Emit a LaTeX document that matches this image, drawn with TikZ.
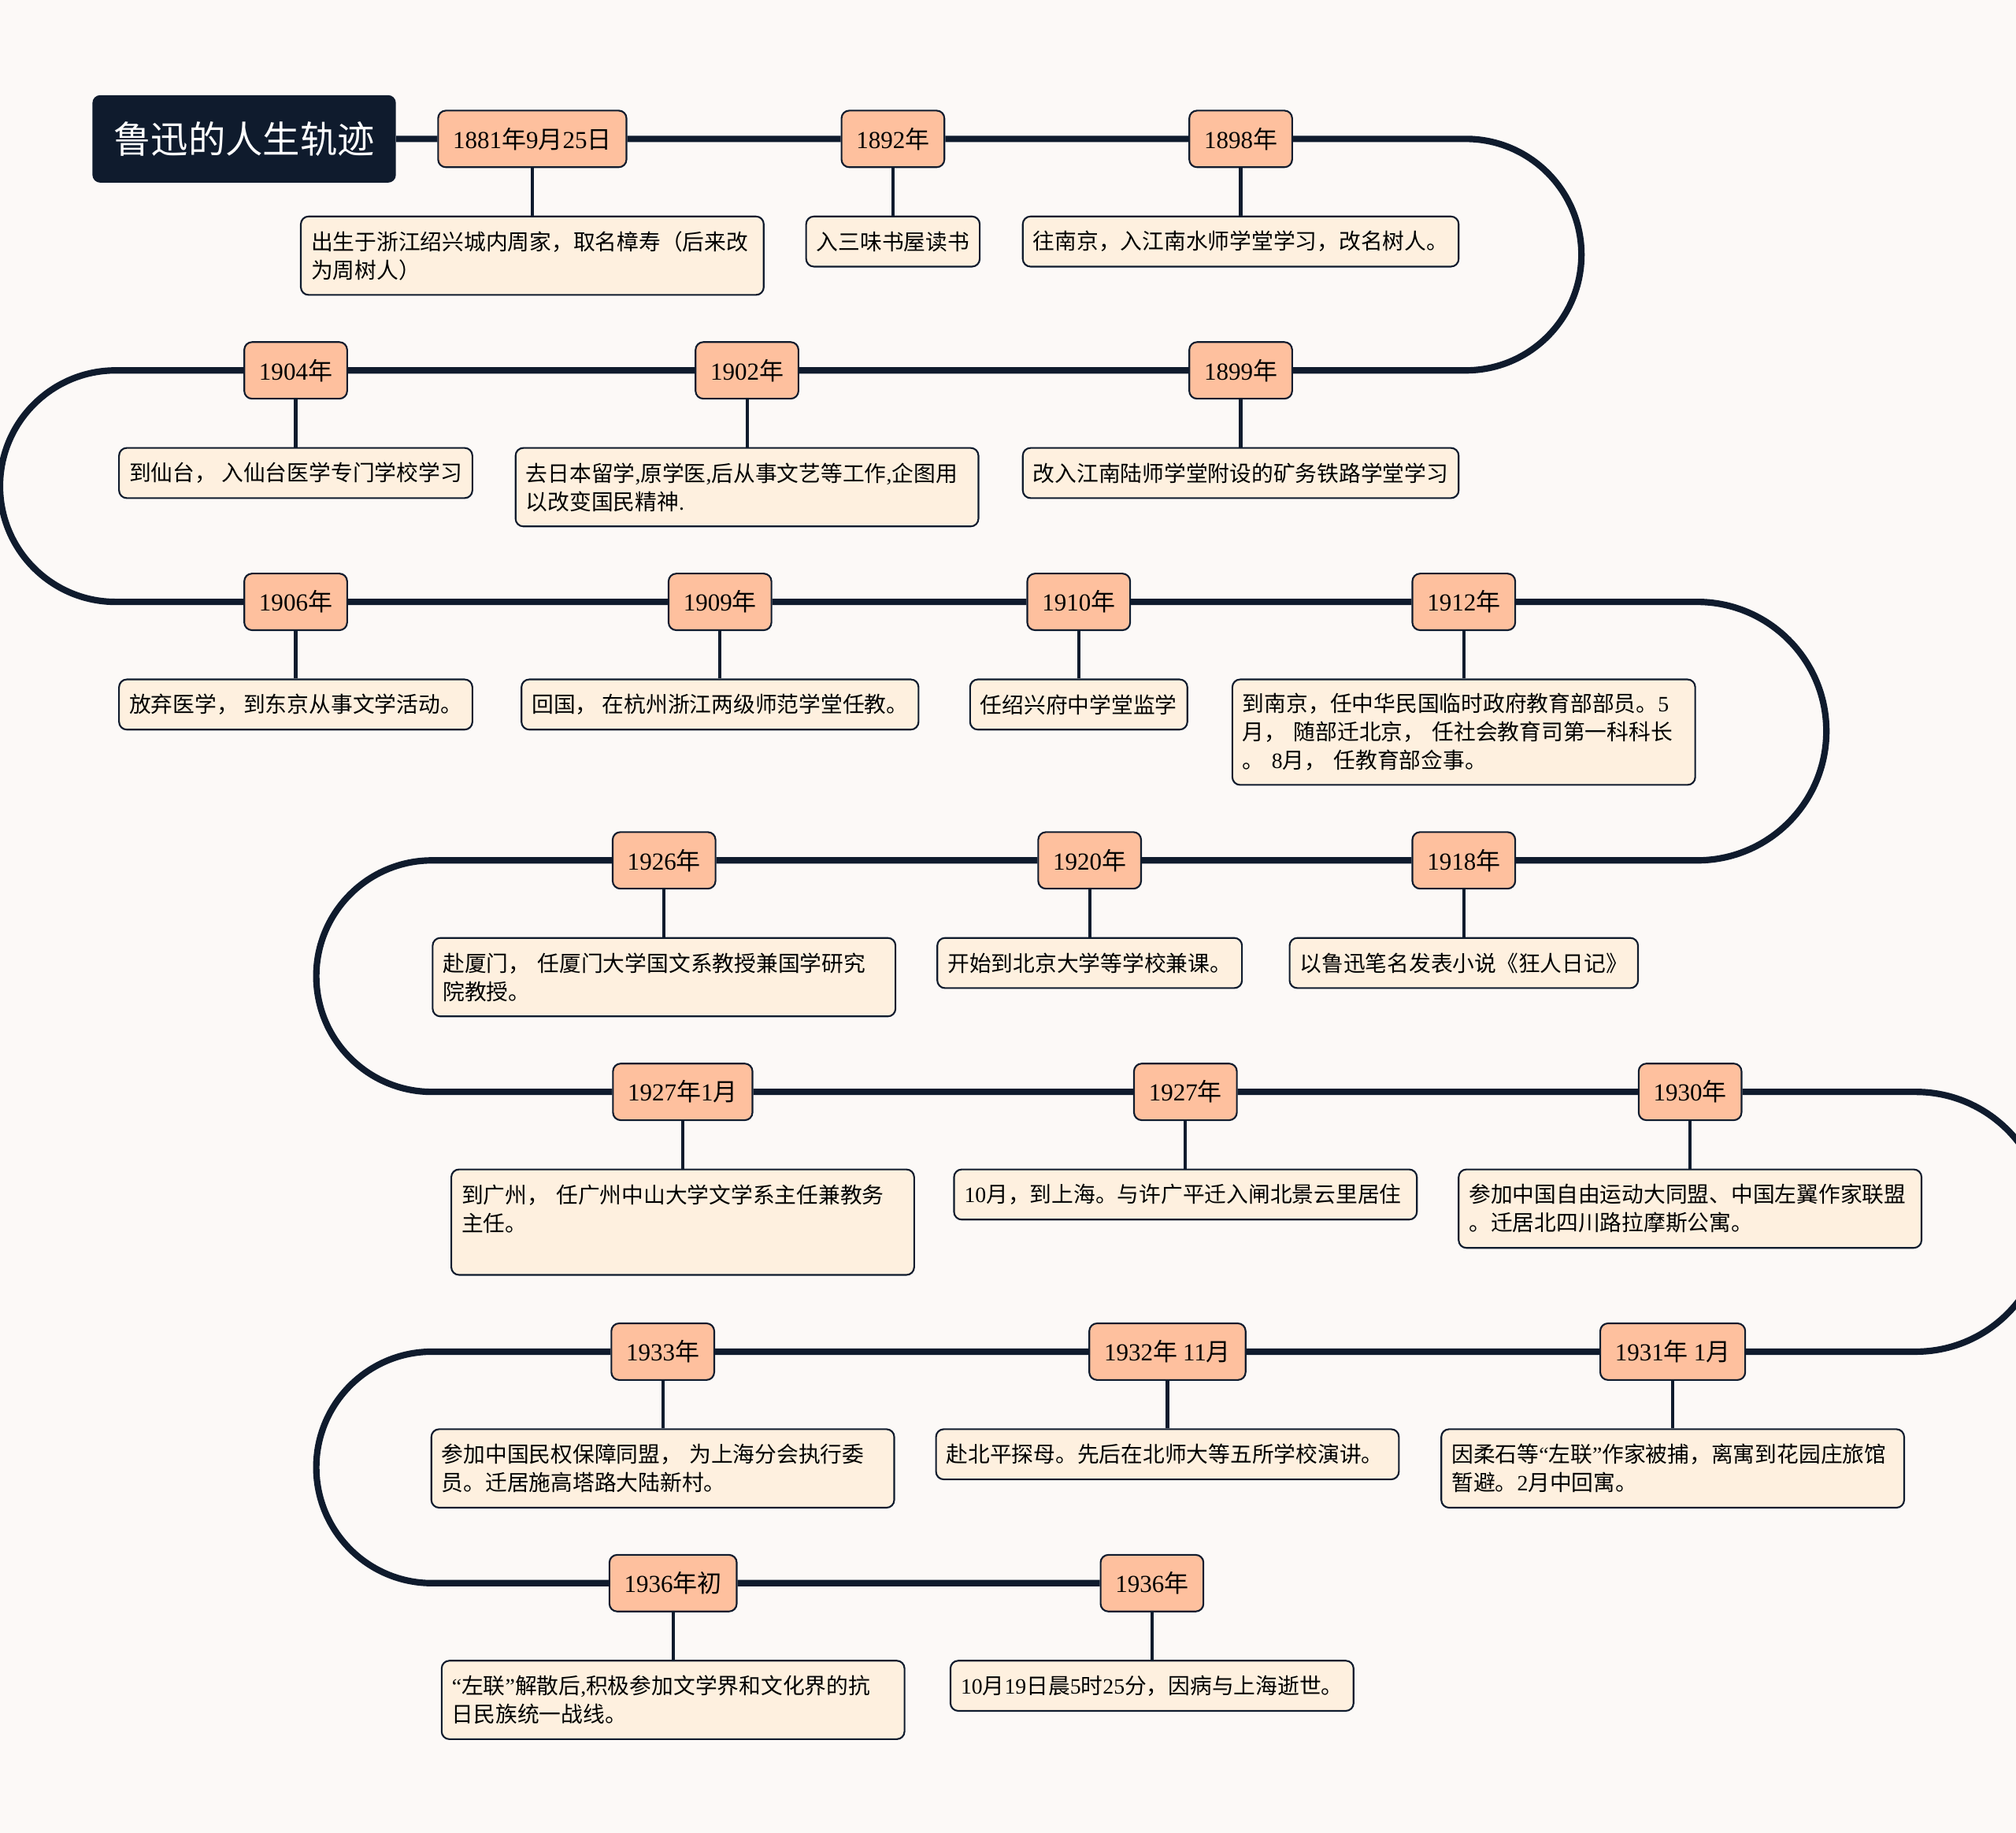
\documentclass[tikz,border=0pt]{standalone}
\usepackage{fontspec}
\setmainfont{Liberation Serif}
\newfontfamily\cjk{Noto Sans CJK SC}
\XeTeXinterchartokenstate=1
\chardef\hanclass=7
\newcommand\hanrange[2]{%
  \count255=#1
  \loop\XeTeXcharclass\count255=\hanclass
    \advance\count255 by 1
  \ifnum\count255<#2 \repeat}
\hanrange{"3000}{"3040}
\hanrange{"4E00}{"A000}
\hanrange{"FF00}{"FFF0}
\XeTeXinterchartoks 0 \hanclass = {\cjk}
\XeTeXinterchartoks 4095 \hanclass = {\cjk}
\XeTeXinterchartoks \hanclass 0 = {\rmfamily}
\XeTeXinterchartoks 4095 0 = {\rmfamily}
\usepackage{tikz}
\usetikzlibrary{positioning}
\definecolor{ink}{HTML}{0F1B2D}
\definecolor{peach}{HTML}{FEC09E}
\definecolor{cream}{HTML}{FEF0DF}
\definecolor{paper}{HTML}{FCF9F7}
\tikzset{
  titlebox/.style={rounded corners=6pt,fill=ink,text=white,minimum width=236pt,
                   minimum height=68pt,font=\fontsize{29}{32}\selectfont},
  datebox/.style={rounded corners=6pt,draw=ink,fill=peach,line width=1.3pt,
                  minimum height=44pt,inner xsep=11.5pt,font=\fontsize{19}{24}\selectfont},
  notebox/.style={rounded corners=6pt,draw=ink,fill=cream,line width=1.3pt,align=left,
                  minimum height=39pt,inner xsep=8pt,font=\fontsize{17}{22}\selectfont},
  widenote/.style={notebox,text width=344pt},
  trunk/.style={draw=ink,line width=5pt},
  stub/.style={draw=ink,line width=2.5pt}
}

\begin{document}
\begin{tikzpicture}[x=1pt,y=1pt,node distance=37pt]
    \useasboundingbox (0,0) rectangle (1568,-1425);
    \fill[paper] (0,0) rectangle (1568,-1425);

    \node[datebox] (d1881) at (414,-108) {1881年9月25日};
    \node[datebox] (d1892) at (694.5,-108) {1892年};
    \node[datebox] (d1898) at (965,-108) {1898年};
    \node[titlebox,left=32pt of d1881] (title) {鲁迅的人生轨迹};

    \node[datebox] (d1904) at (230,-288) {1904年};
    \node[datebox] (d1902) at (581,-288) {1902年};
    \node[datebox] (d1899) at (965,-288) {1899年};

    \node[datebox] (d1906) at (230,-468) {1906年};
    \node[datebox] (d1909) at (560,-468) {1909年};
    \node[datebox] (d1910) at (839,-468) {1910年};
    \node[datebox] (d1912) at (1138.5,-468) {1912年};

    \node[datebox] (d1926) at (516.5,-669) {1926年};
    \node[datebox] (d1920) at (847.5,-669) {1920年};
    \node[datebox] (d1918) at (1138.5,-669) {1918年};

    \node[datebox] (d1927a) at (531,-849) {1927年1月};
    \node[datebox] (d1927b) at (922,-849) {1927年};
    \node[datebox] (d1930) at (1314.5,-849) {1930年};

    \node[datebox] (d1933) at (515.5,-1051) {1933年};
    \node[datebox] (d1932) at (908,-1051) {1932年 11月};
    \node[datebox] (d1931) at (1301,-1051) {1931年 1月};

    \node[datebox] (d1936a) at (523.5,-1231) {1936年初};
    \node[datebox] (d1936b) at (896,-1231) {1936年};

    \node[widenote,minimum height=61pt,below=of d1881] (n1881) {出生于浙江绍兴城内周家，取名樟寿（后来改\\为周树人）};
    \node[notebox,below=of d1892] (n1892) {入三味书屋读书};
    \node[notebox,below=of d1898] (n1898) {往南京，入江南水师学堂学习，改名树人。};

    \node[notebox,below=of d1904] (n1904) {到仙台， 入仙台医学专门学校学习};
    \node[widenote,minimum height=61pt,below=of d1902] (n1902) {去日本留学,原学医,后从事文艺等工作,企图用\\以改变国民精神.};
    \node[notebox,below=of d1899] (n1899) {改入江南陆师学堂附设的矿务铁路学堂学习};

    \node[notebox,below=of d1906] (n1906) {放弃医学， 到东京从事文学活动。};
    \node[notebox,below=of d1909] (n1909) {回国， 在杭州浙江两级师范学堂任教。};
    \node[notebox,below=of d1910] (n1910) {任绍兴府中学堂监学};
    \node[widenote,minimum height=82pt,below=of d1912] (n1912) {到南京，任中华民国临时政府教育部部员。5\\月， 随部迁北京， 任社会教育司第一科科长\\。 8月， 任教育部佥事。};

    \node[widenote,minimum height=61pt,below=of d1926] (n1926) {赴厦门， 任厦门大学国文系教授兼国学研究\\院教授。};
    \node[notebox,below=of d1920] (n1920) {开始到北京大学等学校兼课。};
    \node[notebox,below=of d1918] (n1918) {以鲁迅笔名发表小说《狂人日记》};

    \node[widenote,minimum height=82pt,below=of d1927a] (n1927a) {到广州， 任广州中山大学文学系主任兼教务\\主任。\\~};
    \node[widenote,below=of d1927b] (n1927b) {10月，到上海。与许广平迁入闸北景云里居住};
    \node[widenote,minimum height=61pt,below=of d1930] (n1930) {参加中国自由运动大同盟、中国左翼作家联盟\\。迁居北四川路拉摩斯公寓。};

    \node[widenote,minimum height=61pt,below=of d1933] (n1933) {参加中国民权保障同盟， 为上海分会执行委\\员。迁居施高塔路大陆新村。};
    \node[widenote,below=of d1932] (n1932) {赴北平探母。先后在北师大等五所学校演讲。};
    \node[widenote,minimum height=61pt,below=of d1931] (n1931) {因柔石等“左联”作家被捕，离寓到花园庄旅馆\\暂避。2月中回寓。};

    \node[widenote,minimum height=61pt,below=of d1936a] (n1936a) {“左联”解散后,积极参加文学界和文化界的抗\\日民族统一战线。};
    \node[notebox,below=of d1936b] (n1936b) {10月19日晨5时25分，因病与上海逝世。};

    \coordinate (r1) at (1140,-108);
    \coordinate (l1) at (90,-288);
    \coordinate (r2) at (1320,-468);
    \coordinate (l2) at (336,-669);
    \coordinate (r3) at (1490,-849);
    \coordinate (l3) at (336,-1051);

    \draw[trunk] (title) -- (d1881) -- (d1892) -- (d1898) -- (r1)
      arc[start angle=90,end angle=-90,radius=90] -- (d1899) -- (d1902) -- (d1904) -- (l1)
      arc[start angle=90,end angle=270,radius=90] -- (d1906) -- (d1909) -- (d1910) -- (d1912) -- (r2)
      arc[start angle=90,end angle=-90,radius=100.5] -- (d1918) -- (d1920) -- (d1926) -- (l2)
      arc[start angle=90,end angle=270,radius=90] -- (d1927a) -- (d1927b) -- (d1930) -- (r3)
      arc[start angle=90,end angle=-90,radius=101] -- (d1931) -- (d1932) -- (d1933) -- (l3)
      arc[start angle=90,end angle=270,radius=90] -- (d1936a) -- (d1936b);

    \foreach \y in {1881,1892,1898,1899,1902,1904,1906,1909,1910,1912,1918,1920,1926,
                    1927a,1927b,1930,1931,1932,1933,1936a,1936b}
      \draw[stub] (d\y) -- (n\y);
  \end{tikzpicture}
\end{document}
